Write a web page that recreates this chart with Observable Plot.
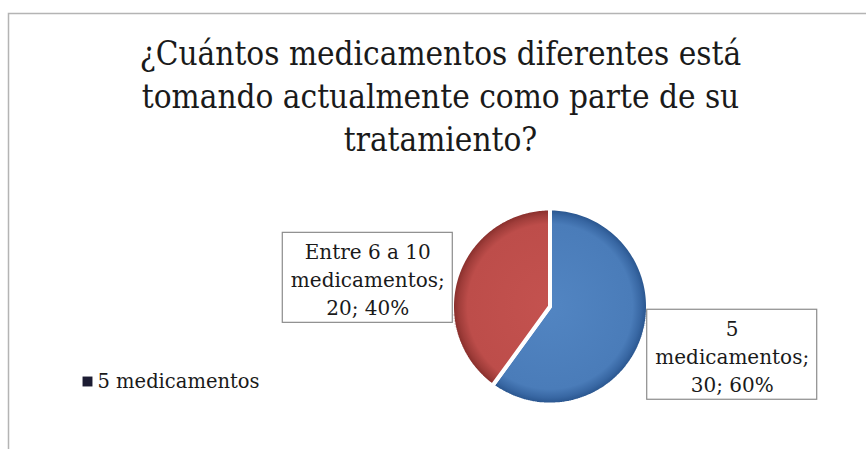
<!DOCTYPE html>
<html><head><meta charset="utf-8">
<script src="https://cdn.jsdelivr.net/npm/d3@7"></script>
<script src="https://cdn.jsdelivr.net/npm/@observablehq/plot@0.6"></script>
<style>html,body{margin:0;padding:0;background:#fff;overflow:hidden}</style>
</head><body><div id="chart"></div>
<script>
const titleText = "¿Cuántos medicamentos diferentes está\ntomando actualmente como parte de su\ntratamiento?";
const categories = ["5 medicamentos", "Entre 6 a 10 medicamentos"];
const labelNames = ["5\nmedicamentos", "Entre 6 a 10\nmedicamentos"];
const counts = [30, 20];
const legendLabels = ["5 medicamentos"];
const gradientIds = ["gBlue", "gRed"];

const W = 866, H = 449;
const CX = 549.5, CY = 306, R = 98;
const total = d3.sum(counts);
const slices = d3.pie().sort(null).value(d => d.count)(
  categories.map((c, i) => ({category: c, name: labelNames[i], count: counts[i], pct: Math.round(counts[i] / total * 100), grad: gradientIds[i]}))
);
const pts = [];
for (const s of slices) {
  pts.push({cat: s.data.category, x: 0, y: 0});
  const n = 160;
  for (let k = 0; k <= n; k++) {
    const a = s.startAngle + (s.endAngle - s.startAngle) * k / n;
    pts.push({cat: s.data.category, x: Math.sin(a), y: Math.cos(a)});
  }
}
const labels = slices.map(s => {
  const m = (s.startAngle + s.endAngle) / 2;
  return {lx: 1.955 * Math.sin(m), ly: 1.27 * Math.cos(m) - 0.1,
          text: `${s.data.name};\n${s.data.count}; ${s.data.pct}%`};
});
const bw = 85 / R, bh = 45 / R;

const marks = [
  Plot.frame({stroke: "#b4b4b4", strokeWidth: 1.5, insetRight: -20, insetBottom: -20}),
  Plot.text([titleText], {frameAnchor: "top", text: d => d, dx: 3, dy: 21, lineAnchor: "top",
    fontSize: 33, lineHeight: 1.3, fill: "#1a1a1a", fontFamily: "'DejaVu Serif Condensed', 'DejaVu Serif', serif"}),
];
slices.forEach(s => {
  marks.push(Plot.line(pts.filter(p => p.cat === s.data.category), {x: "x", y: "y", curve: "linear-closed",
    fill: `url(#${s.data.grad})`, stroke: "white", strokeWidth: 4, strokeLinejoin: "miter"}));
});
marks.push(
  Plot.rect(labels, {x1: d => d.lx - bw, x2: d => d.lx + bw, y1: d => d.ly - bh, y2: d => d.ly + bh,
    fill: "white", stroke: "#8c8c8c", strokeWidth: 1.2}),
  Plot.text(labels, {x: "lx", y: "ly", text: "text", fontSize: 20, lineHeight: 1.4, fill: "#1a1a1a"}),
  Plot.dot(legendLabels, {frameAnchor: "top-left", dx: 79, dy: 368, symbol: "square", r: 5.6, fill: "#1c1c33", stroke: null}),
  Plot.text(legendLabels, {frameAnchor: "top-left", text: d => d, dx: 89, dy: 368, lineAnchor: "middle", textAnchor: "start", fontSize: 19.5, fill: "#1a1a1a"})
);

const chart = Plot.plot({
  width: W, height: H,
  marginLeft: 8, marginTop: 13, marginRight: 0, marginBottom: 0,
  x: {domain: [-1, 1], range: [CX - R, CX + R], axis: null},
  y: {domain: [-1, 1], range: [CY + R, CY - R], axis: null},
  style: {fontFamily: "'DejaVu Serif', serif", background: "white"},
  marks
});
const defs = d3.select(chart).insert("defs", ":first-child");
const gradSpecs = {
  gBlue: [["0", "#5285c2"], ["0.86", "#4a7cb9"], ["0.95", "#3867a3"], ["1", "#2b5790"]],
  gRed: [["0", "#c4524f"], ["0.86", "#bd4d4a"], ["0.95", "#a03d3a"], ["1", "#8a302d"]]
};
for (const id of gradientIds) {
  const g = defs.append("radialGradient").attr("id", id).attr("gradientUnits", "userSpaceOnUse")
    .attr("cx", CX).attr("cy", CY).attr("r", R - 2);
  for (const [o, c] of gradSpecs[id]) g.append("stop").attr("offset", o).attr("stop-color", c);
}
document.getElementById("chart").appendChild(chart);
</script></body></html>
